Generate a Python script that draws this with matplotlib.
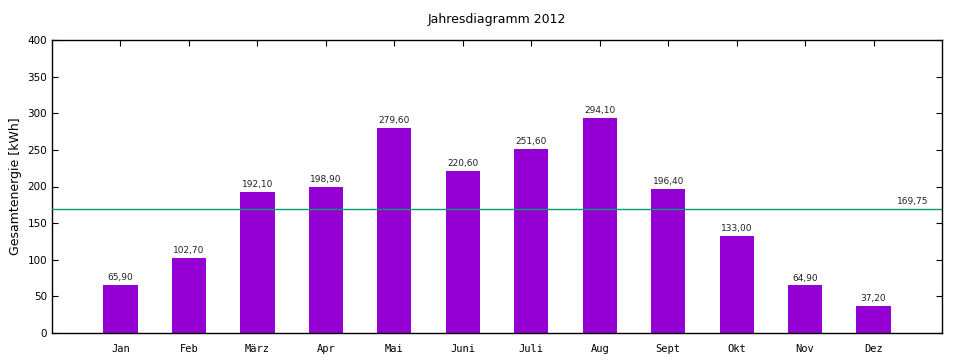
import matplotlib
matplotlib.use("Agg")
import matplotlib.pyplot as plt

# Monthly energy values 2012 (kWh)
months = ["Jan", "Feb", "März", "Apr", "Mai", "Juni",
          "Juli", "Aug", "Sept", "Okt", "Nov", "Dez"]
energy_kwh = [65.90, 102.70, 192.10, 198.90, 279.60, 220.60,
              251.60, 294.10, 196.40, 133.00, 64.90, 37.20]
mean_kwh = 169.75
yticks = [0, 50, 100, 150, 200, 250, 300, 350, 400]


def de_fmt(v: float, digits: int = 2) -> str:
    return "{:.{d}f}".format(v, d=digits).replace(".", ",")


fig = plt.figure(figsize=(9.6, 3.6), dpi=100)
ax = fig.add_axes([52 / 960, 1 - 333 / 360, 890 / 960, 293 / 360])

positions = list(range(1, len(months) + 1))
ax.bar(positions, energy_kwh, width=0.5, color="#9400d3", zorder=2)
for x, v in zip(positions, energy_kwh):
    ax.text(x, v + 4, de_fmt(v), ha="center", va="bottom",
            fontsize=6.5, color="#222222", zorder=3)

ax.axhline(mean_kwh, color="#009e73", linewidth=1.0, zorder=3)
ax.text(12.8, mean_kwh + 3, de_fmt(mean_kwh), ha="right", va="bottom",
        fontsize=6.5, color="#222222", zorder=3)

ax.set_xlim(0, 13)
ax.set_ylim(0, 400)
ax.set_xticks(positions)
ax.set_xticklabels(months, family="DejaVu Sans Mono", fontsize=7.5)
ax.set_yticks(yticks)
ax.set_yticklabels([str(t) for t in yticks], fontsize=7.5)
ax.tick_params(direction="in", top=True, right=True, length=4, width=0.8)
ax.tick_params(axis="x", pad=8)
for spine in ax.spines.values():
    spine.set_linewidth(1.0)

ax.set_ylabel("Gesamtenergie [kWh]", fontsize=9)
ax.set_title("Jahresdiagramm 2012", fontsize=9, pad=12)

fig.savefig("out.png", dpi=100)
